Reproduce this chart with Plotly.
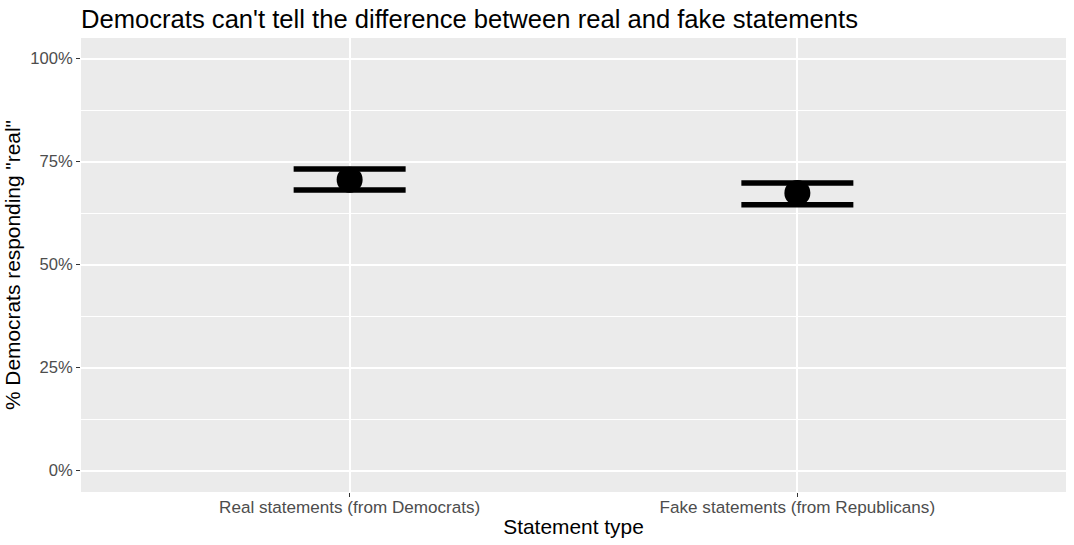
import plotly.graph_objects as go

categories = ["Real statements (from Democrats)", "Fake statements (from Republicans)"]
mean_real = [0.706, 0.674]
lower = [0.681, 0.645]
upper = [0.732, 0.698]
y_ticks = [0, 0.25, 0.5, 0.75, 1.0]
y_ticklabels = ["0%", "25%", "50%", "75%", "100%"]

err_plus = [u - m for u, m in zip(upper, mean_real)]
err_minus = [m - l for m, l in zip(mean_real, lower)]

FONT = "Liberation Sans, Arial, Helvetica, sans-serif"

fig = go.Figure()
fig.add_trace(go.Scatter(
    x=categories, y=mean_real, mode="markers",
    marker=dict(color="black", size=26, line=dict(width=0)),
    error_y=dict(type="data", symmetric=False, array=err_plus, arrayminus=err_minus,
                 color="black", thickness=5.5, width=56),
    showlegend=False, hoverinfo="skip",
))

fig.update_layout(
    width=1074, height=545,
    margin=dict(l=81, r=8, t=38, b=53, autoexpand=False),
    paper_bgcolor="white", plot_bgcolor="#EBEBEB",
    font=dict(family=FONT, color="black"),
    title=dict(text="Democrats can't tell the difference between real and fake statements",
               x=81 / 1074, xanchor="left", xref="container",
               y=1 - 19 / 545, yanchor="middle", yref="container",
               automargin=False,
               font=dict(size=25.6, color="black", family=FONT)),
)
fig.update_xaxes(
    type="category", categoryorder="array", categoryarray=categories,
    range=[-0.6, 1.6], showgrid=True, gridcolor="white", gridwidth=1.5,
    zeroline=False, showline=False, automargin=False,
    ticks="outside", ticklen=4, tickwidth=1.1, tickcolor="#333333",
    ticklabelstandoff=-5,
    tickfont=dict(size=17.1, color="#4D4D4D", family=FONT),
    title=dict(text="Statement type", font=dict(size=20.9, color="black", family=FONT), standoff=3),
)
fig.update_yaxes(
    range=[-0.052, 1.05], tickvals=y_ticks, ticktext=y_ticklabels,
    showgrid=True, gridcolor="white", gridwidth=1.5,
    minor=dict(tickvals=[0.125, 0.375, 0.625, 0.875], showgrid=True, gridcolor="white", gridwidth=0.75, ticks=""),
    zeroline=False, showline=False, automargin=False,
    ticks="outside", ticklen=4, tickwidth=1.1, tickcolor="#333333",
    tickfont=dict(size=16.6, color="#4D4D4D", family=FONT),
    title=dict(text='% Democrats responding "real"', font=dict(size=20.9, color="black", family=FONT), standoff=3),
)

fig.write_html("out.html", config={"responsive": False, "displayModeBar": False},
               post_script="document.body.style.margin='0';document.body.style.overflow='hidden';")
